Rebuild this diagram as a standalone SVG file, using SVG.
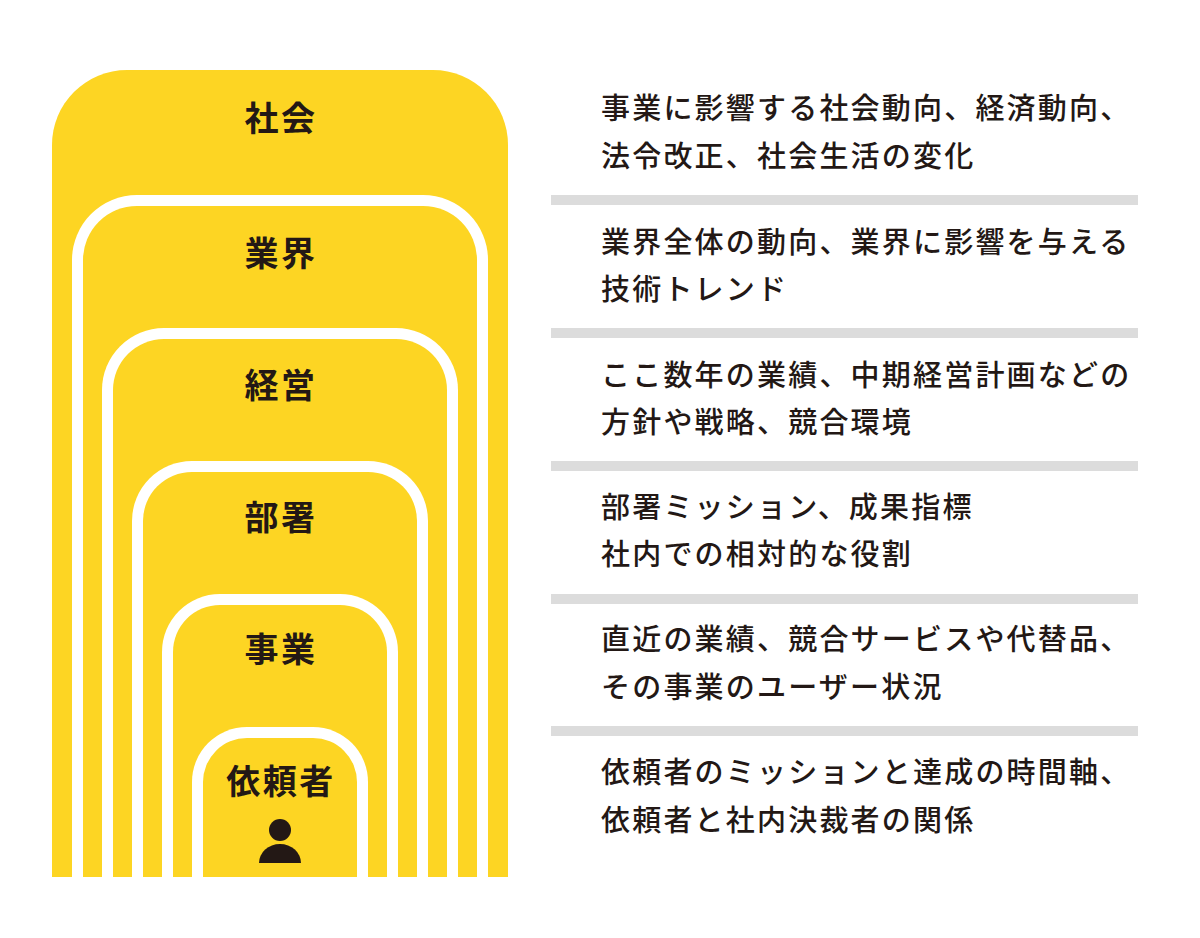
<svg xmlns="http://www.w3.org/2000/svg" width="1200" height="938" viewBox="0 0 1200 938">
<style>
.y{fill:#FDD523}.w{fill:#fff}
.lbl{font-family:"Noto Sans CJK JP",sans-serif;font-weight:700;font-size:34px;letter-spacing:2.5px;fill:#231815;text-anchor:middle}
.d{font-family:"Noto Sans CJK JP",sans-serif;font-weight:500;font-size:29px;letter-spacing:2.2px;fill:#231815}
.sep{fill:#DCDCDC}
</style>
<rect width="1200" height="938" fill="#fff"/>
<g id="n1"><path class="y" d="M52 877V145A75 75 0 0 1 127 70H433A75 75 0 0 1 508 145V877Z"/><text class="lbl" x="281" y="131">社会</text></g>
<g id="n2"><path class="w" d="M72 877V260A65 65 0 0 1 137 195H423A65 65 0 0 1 488 260V877Z"/><path class="y" d="M83 877V260A54 54 0 0 1 137 206H423A54 54 0 0 1 477 260V877Z"/><text class="lbl" x="281" y="266">業界</text></g>
<g id="n3"><path class="w" d="M102 877V390A62 62 0 0 1 164 328H396A62 62 0 0 1 458 390V877Z"/><path class="y" d="M113 877V390A51 51 0 0 1 164 339H396A51 51 0 0 1 447 390V877Z"/><text class="lbl" x="281" y="398">経営</text></g>
<g id="n4"><path class="w" d="M132 877V521A60 60 0 0 1 192 461H368A60 60 0 0 1 428 521V877Z"/><path class="y" d="M143 877V521A49 49 0 0 1 192 472H368A49 49 0 0 1 417 521V877Z"/><text class="lbl" x="281" y="530">部署</text></g>
<g id="n5"><path class="w" d="M162 877V652A58 58 0 0 1 220 594H340A58 58 0 0 1 398 652V877Z"/><path class="y" d="M173 877V652A47 47 0 0 1 220 605H340A47 47 0 0 1 387 652V877Z"/><text class="lbl" x="281" y="662">事業</text></g>
<g id="n6"><path class="w" d="M192 877V782A55 55 0 0 1 247 727H313A55 55 0 0 1 368 782V877Z"/><path class="y" d="M203 877V782A44 44 0 0 1 247 738H313A44 44 0 0 1 357 782V877Z"/><text class="lbl" x="281" y="794">依頼者</text>
<circle cx="280" cy="830" r="11" fill="#231815"/><path d="M259 863A21 19 0 0 1 301 863Z" fill="#231815"/></g>
<g id="seps"><rect class="sep" x="551" y="195" width="587" height="10"/><rect class="sep" x="551" y="328" width="587" height="10"/><rect class="sep" x="551" y="461" width="587" height="10"/><rect class="sep" x="551" y="594" width="587" height="10"/><rect class="sep" x="551" y="726" width="587" height="10"/></g>
<g id="desc">
<text class="d" x="601" y="119">事業に影響する社会動向、経済動向、</text><text class="d" x="601" y="167">法令改正、社会生活の変化</text>
<text class="d" x="601" y="253">業界全体の動向、業界に影響を与える</text><text class="d" x="601" y="300">技術トレンド</text>
<text class="d" x="601" y="386">ここ数年の業績、中期経営計画などの</text><text class="d" x="601" y="433">方針や戦略、競合環境</text>
<text class="d" x="601" y="518">部署ミッション、成果指標</text><text class="d" x="601" y="565">社内での相対的な役割</text>
<text class="d" x="601" y="650">直近の業績、競合サービスや代替品、</text><text class="d" x="601" y="698">その事業のユーザー状況</text>
<text class="d" x="601" y="783">依頼者のミッションと達成の時間軸、</text><text class="d" x="601" y="831">依頼者と社内決裁者の関係</text>
</g>
</svg>
